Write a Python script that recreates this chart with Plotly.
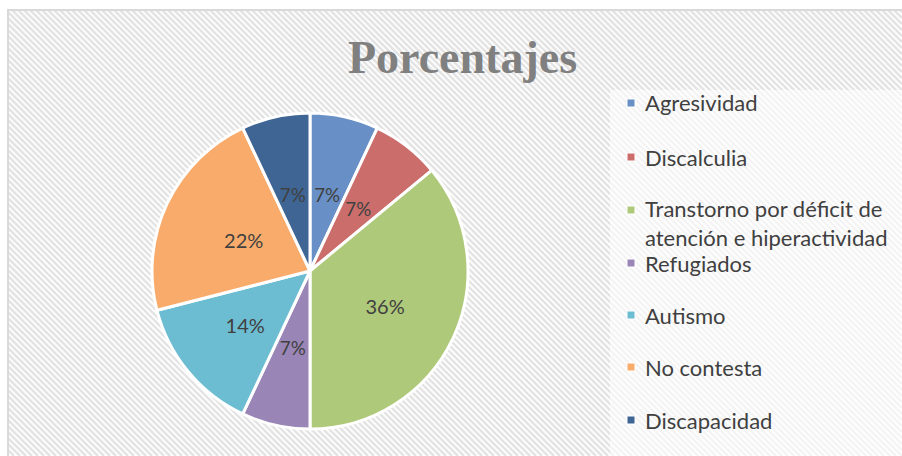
import plotly.graph_objects as go

W, H = 902, 456

categories = ["Agresividad", "Discalculia",
              "Transtorno por déficit de<br>atención e hiperactividad",
              "Refugiados", "Autismo", "No contesta", "Discapacidad"]
values = [7, 7, 36, 7, 14, 22, 7]
colors = ["#6990C6", "#CB6E6B", "#AFC97A", "#9A86B6", "#6DBDD2", "#F8AB6B", "#3F6595"]
title_text = "Porcentajes"


def px(x):
    return x / W


def py(y):
    return 1 - y / H


# background hatch (diagonal "\" stripes) inside the chart frame
fx0, fy0, fx1, fy1 = 8, 10, 902, 456
segs = []
step = 6
c = fx0 - (fy1 - fy0)
while c < fx1:
    xs = max(fx0, c)
    ys = fy0 + (xs - c)
    xe = min(fx1, c + (fy1 - fy0))
    ye = fy0 + (xe - c)
    if xe > xs:
        segs.append(f"M{px(xs):.5f},{py(ys):.5f}L{px(xe):.5f},{py(ye):.5f}")
    c += step
hatch_path = "".join(segs)

fig = go.Figure()

cx, cy, r = 310, 271, 158


def dom(rad):
    return dict(x=[px(cx - rad), px(cx + rad)], y=[py(cy + rad), py(cy - rad)])


label_font = dict(family="Lato", size=20, color="#404040")

# which label ring each slice's percentage is drawn on (Excel puts them at ~half radius)
tmpl_main = ["%{percent:.0%}" if v > 30 else "" for v in values]
tmpl_mid = ["%{percent:.0%}" if 10 < v <= 30 else "" for v in values]
tmpl_small = ["%{percent:.0%}" if v <= 10 else "" for v in values]

fig.add_trace(go.Pie(
    labels=categories, values=values, sort=False, direction="clockwise", rotation=0,
    marker=dict(colors=colors, line=dict(color="white", width=3)),
    texttemplate=tmpl_main, textposition="inside", insidetextorientation="horizontal",
    textfont=label_font, domain=dom(r), showlegend=False, hoverinfo="label+percent",
))
for rad, tmpl in ((120, tmpl_mid), (96, tmpl_small)):
    fig.add_trace(go.Pie(
        labels=categories, values=values, sort=False, direction="clockwise", rotation=0,
        marker=dict(colors=["rgba(0,0,0,0)"] * len(values), line=dict(width=0)),
        texttemplate=tmpl, textposition="inside", insidetextorientation="horizontal",
        textfont=label_font, domain=dom(rad), showlegend=False, hoverinfo="skip",
    ))

frame_path = f"M{px(fx0)},{py(fy1)}L{px(fx0)},{py(fy0)}L{px(fx1)},{py(fy0)}"
shapes = [
    dict(type="rect", xref="paper", yref="paper", x0=px(fx0), x1=px(fx1), y0=py(fy1), y1=py(fy0),
         fillcolor="white", line=dict(width=0), layer="below"),
    dict(type="path", xref="paper", yref="paper", path=hatch_path,
         line=dict(color="#E4E4E4", width=2.5), layer="below"),
    dict(type="rect", xref="paper", yref="paper", x0=px(610), x1=px(fx1), y0=py(fy1), y1=py(90),
         fillcolor="rgba(255,255,255,0.6)", line=dict(width=0), layer="below"),
    dict(type="path", xref="paper", yref="paper", path=frame_path,
         line=dict(color="#D9D9D9", width=2), layer="below"),
]

annotations = [dict(text=f"<b>{title_text}</b>", xref="paper", yref="paper",
                    x=px(462), y=py(57), xanchor="center", yanchor="middle", showarrow=False,
                    font=dict(family="Liberation Serif", size=46, color="#808080"))]

legend_y = [103, 157, 223, 263, 315, 367, 420]
for cat, col, ly in zip(categories, colors, legend_y):
    sy = 210 if "<br>" in cat else ly
    shapes.append(dict(type="rect", xref="paper", yref="paper",
                       x0=px(627), x1=px(635), y0=py(sy + 4), y1=py(sy - 4),
                       fillcolor=col, line=dict(color="white", width=1)))
    annotations.append(dict(text=cat, xref="paper", yref="paper", x=px(643), y=py(ly),
                            xanchor="left", yanchor="middle", align="left", showarrow=False,
                            font=dict(family="Lato", size=22, color="#404040")))

fig.update_layout(
    width=W, height=H,
    margin=dict(l=0, r=0, t=0, b=0),
    paper_bgcolor="white",
    plot_bgcolor="white",
    shapes=shapes,
    annotations=annotations,
    showlegend=False,
)

fig.write_html("out.html", config={"displayModeBar": False},
               post_script="document.body.style.margin='0';")
